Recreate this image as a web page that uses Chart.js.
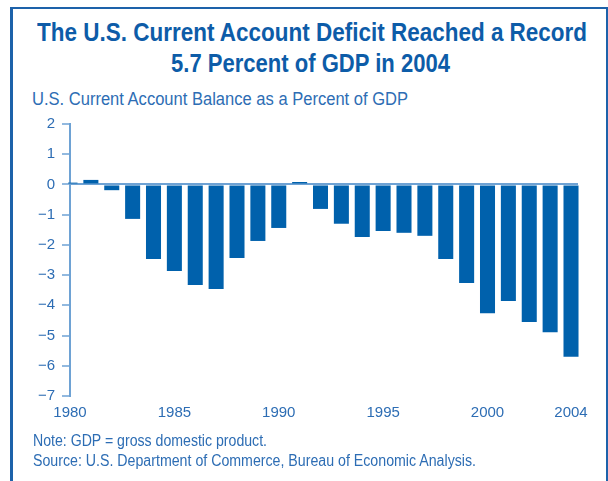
<!DOCTYPE html>
<html>
<head>
<meta charset="utf-8">
<script src="https://cdn.jsdelivr.net/npm/chart.js@4.4.1/dist/chart.umd.min.js"></script>
<style>
  html, body { margin: 0; padding: 0; background: #fff; }
  body { width: 608px; height: 481px; position: relative; overflow: hidden;
         font-family: 'Liberation Sans', Arial, sans-serif; }
  .frame { position: absolute; left: 10px; top: 7px; width: 593px; height: 500px;
           border-top: 2px solid #1d62aa; border-left: 3px solid #1d62aa; border-right: 2px solid #1d62aa; }
  .line { position: absolute; white-space: nowrap; }
  .title { font-size: 26px; line-height: 31px; font-weight: bold; color: #0d5ca8; transform-origin: 50% 50%; }
  .subtitle { font-size: 17.5px; line-height: 20px; color: #2d6db4; transform-origin: 0 50%; }
  .note { font-size: 16px; line-height: 20px; color: #2d6db4; transform-origin: 0 50%; }
  #wrap { position: absolute; left: 0; top: 108px; width: 608px; height: 330px; }
</style>
</head>
<body>
<div class="frame"></div>
<div class="line title" data-w="550" data-cx="312" style="top:17px">The U.S. Current Account Deficit Reached a Record</div>
<div class="line title" data-w="279" data-cx="310.5" style="top:48px">5.7 Percent of GDP in 2004</div>
<div class="line subtitle" data-w="376" style="left:32px; top:89px">U.S. Current Account Balance as a Percent of GDP</div>
<div id="wrap"><canvas id="deficitChart"></canvas></div>
<div class="line note" data-w="234" style="left:33px; top:431px">Note: GDP = gross domestic product.</div>
<div class="line note" data-w="443" style="left:33px; top:451px">Source: U.S. Department of Commerce, Bureau of Economic Analysis.</div>

<script>
// Current account balance, % of GDP, 1980-2004
const years = [1980, 1981, 1982, 1983, 1984, 1985, 1986, 1987, 1988, 1989, 1990, 1991, 1992,
               1993, 1994, 1995, 1996, 1997, 1998, 1999, 2000, 2001, 2002, 2003, 2004];
const balance = [0.06, 0.15, -0.19, -1.14, -2.47, -2.86, -3.33, -3.46, -2.43, -1.87, -1.44, 0.08, -0.81,
                 -1.30, -1.74, -1.54, -1.60, -1.70, -2.47, -3.26, -4.26, -3.86, -4.55, -4.89, -5.7];
const yearTicks = [1980, 1985, 1990, 1995, 2000, 2004];

const BAR_BLUE = '#0061ac';
const AXIS_BLUE = '#6ea2d4';
const TEXT_BLUE = '#2d6db4';

// squeeze the header/footer text into a condensed look
document.querySelectorAll('.line').forEach(el => {
  const w = el.getBoundingClientRect().width;
  const sx = (+el.dataset.w) / w;
  if (el.dataset.cx) {
    el.style.left = (+el.dataset.cx - w / 2) + 'px';
  }
  el.style.transform = 'scaleX(' + sx.toFixed(4) + ')';
});

Chart.defaults.font.family = "'Liberation Sans', Arial, sans-serif";
Chart.defaults.color = TEXT_BLUE;

new Chart(document.getElementById('deficitChart'), {
  type: 'bar',
  data: {
    datasets: [{
      data: years.map((yr, i) => ({ x: yr, y: balance[i] })),
      backgroundColor: BAR_BLUE,
      borderWidth: 0,
      categoryPercentage: 0.8,
      barPercentage: 0.9,
      clip: { left: 2, top: 5, right: 5, bottom: 5 }
    }]
  },
  options: {
    responsive: true,
    maintainAspectRatio: false,
    animation: false,
    layout: { padding: { left: 33, right: 30, top: 12, bottom: 8 } },
    plugins: { legend: { display: false }, tooltip: { enabled: false } },
    scales: {
      x: {
        type: 'linear',
        min: 1980,
        max: 2004.335,
        offset: false,
        grid: { display: false, drawTicks: false, offset: false },
        border: { display: false },
        afterBuildTicks: scale => { scale.ticks = yearTicks.map(v => ({ value: v })); },
        ticks: {
          autoSkip: false,
          maxRotation: 0,
          padding: 8,
          color: TEXT_BLUE,
          font: { size: 15 },
          callback: v => String(v)
        }
      },
      y: {
        min: -7,
        max: 2,
        z: 1,
        afterFit: scale => { scale.width = 37; },
        border: { display: true, color: AXIS_BLUE, width: 2 },
        grid: {
          drawTicks: true,
          tickLength: 8,
          tickColor: AXIS_BLUE,
          tickWidth: 1.5,
          color: ctx => (ctx.tick && ctx.tick.value === 0 ? AXIS_BLUE : 'rgba(0,0,0,0)'),
          lineWidth: 2
        },
        ticks: {
          stepSize: 1,
          padding: 7,
          color: TEXT_BLUE,
          font: { size: 15 },
          callback: v => (v < 0 ? '\u2212' + Math.abs(v) : String(v))
        }
      }
    }
  }
});
</script>
</body>
</html>
